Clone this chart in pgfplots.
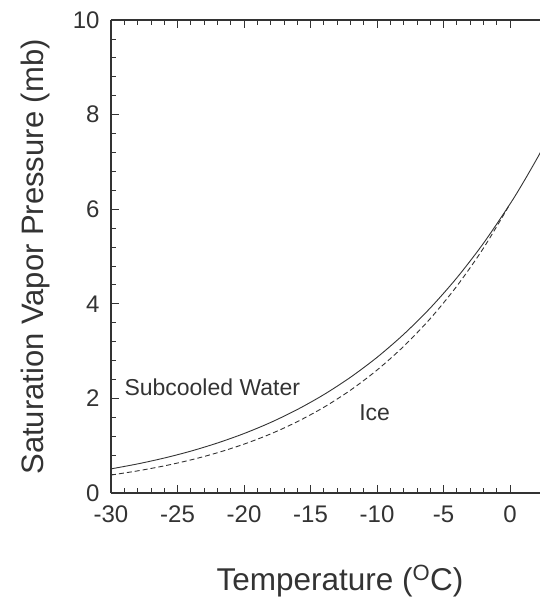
\documentclass[border=0pt]{standalone}
\usepackage{fontspec}
\setmainfont{Liberation Sans}
\usepackage{pgfplots}
\pgfplotsset{compat=1.18}
\definecolor{ink}{gray}{0.2}
\begin{document}
\begin{tikzpicture}
\path[use as bounding box] (-111pt,-107pt) rectangle (429pt,493pt);
\begin{axis}[
  at={(0,0)}, anchor=south west,
  scale only axis, width=429pt, height=473pt,
  xmin=-30, xmax=2.25, ymin=0, ymax=10,
  axis y line*=left,
  xtick={-30,-25,...,0}, ytick={0,2,...,10},
  minor x tick num=4, minor y tick num=4,
  tick align=inside,
  major tick length=8pt, minor tick length=5pt,
  every tick/.style={ink, line width=0.8pt},
  axis line style={ink, line width=1.2pt},
  /pgf/number format/assume math mode=true,
  xticklabel style={font=\fontsize{24}{28}\selectfont, text=ink, anchor=north, yshift=-9pt},
  yticklabel style={font=\fontsize{24}{28}\selectfont, text=ink, anchor=east, xshift=-8pt},
  xticklabel pos=lower,
]
\addplot[ink, line width=0.9pt, smooth] coordinates {
(-30,0.510) (-28,0.615) (-26,0.739) (-24,0.885) (-22,1.057) (-20,1.257)
(-18,1.491) (-16,1.764) (-14,2.080) (-12,2.446) (-10,2.868) (-8,3.354)
(-6,3.911) (-4,4.550) (-2,5.280) (0,6.112) (1,6.570) (2,7.058) (2.5,7.314)
};
\addplot[ink, line width=0.9pt, smooth, dash pattern=on 5pt off 3pt] coordinates {
(-30,0.380) (-28,0.468) (-26,0.573) (-24,0.699) (-22,0.851) (-20,1.033)
(-18,1.249) (-16,1.507) (-14,1.812) (-12,2.173) (-10,2.599) (-8,3.100)
(-6,3.687) (-4,4.375) (-2,5.177) (0,6.112)
};
\node[anchor=base west, text=ink, font=\fontsize{23}{27}\selectfont, inner sep=0pt] at (axis cs:-29.0,2.07) {Subcooled Water};
\node[anchor=base west, text=ink, font=\fontsize{23}{27}\selectfont, inner sep=0pt] at (axis cs:-11.35,1.54) {Ice};
\end{axis}
\node[anchor=base, text=ink, font=\fontsize{31.5}{36}\selectfont, inner sep=0pt] at (229pt,-97pt) {Temperature (\textsuperscript{O}C)};
\node[rotate=90, text=ink, font=\fontsize{31}{36}\selectfont, inner sep=0pt] at (-76pt,236pt) {Saturation Vapor Pressure (mb)};
\end{tikzpicture}
\end{document}
